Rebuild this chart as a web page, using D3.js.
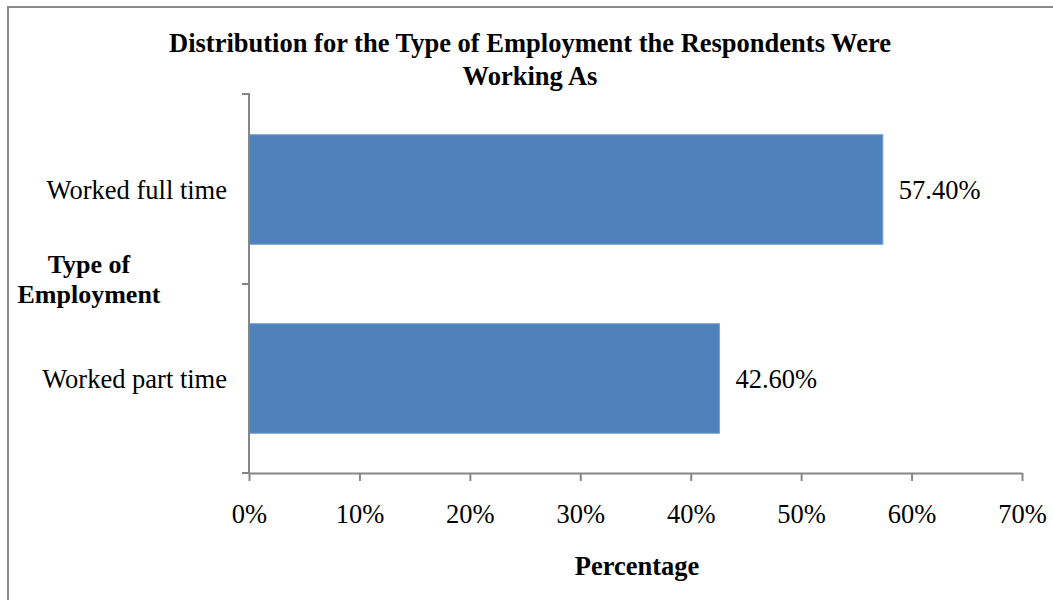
<!DOCTYPE html>
<html>
<head>
<meta charset="utf-8">
<script src="https://cdn.jsdelivr.net/npm/d3@7/dist/d3.min.js"></script>
<style>
  html, body { margin: 0; padding: 0; background: #fff; }
  svg { display: block; font-family: "Liberation Serif", "Times New Roman", serif; }
</style>
</head>
<body>
<svg id="chart" width="1053" height="600"></svg>
<script>
// Employment type shares (percent)
const categories = ["Worked full time", "Worked part time"];
const values = [57.4, 42.6];
const valueLabels = ["57.40%", "42.60%"];
const xTicks = [0, 10, 20, 30, 40, 50, 60, 70];

const svg = d3.select("#chart");
const W = 1053, H = 600;
const FS = 26.5;

// outer frame
svg.append("path")
  .attr("d", `M8,${H} L8,7 L${W},7`)
  .attr("fill", "none")
  .attr("stroke", "#8a8a8a")
  .attr("stroke-width", 2);

const plot = { left: 249, right: 1022, top: 95, bottom: 473 };

const x = d3.scaleLinear().domain([0, 70]).range([plot.left, plot.right]);
const y = d3.scaleBand().domain(categories).range([plot.top, plot.bottom])
  .paddingInner(0.42).paddingOuter(0.21);

// bars
svg.selectAll("rect.bar").data(categories).join("rect")
  .attr("class", "bar")
  .attr("x", x(0))
  .attr("y", d => y(d))
  .attr("width", (d, i) => x(values[i]) - x(0))
  .attr("height", y.bandwidth())
  .attr("fill", "#4f81bd")
  .attr("stroke", "#7ba0cf")
  .attr("stroke-width", 1);

// value labels
svg.selectAll("text.val").data(categories).join("text")
  .attr("class", "val")
  .attr("x", (d, i) => x(values[i]) + 16)
  .attr("y", d => y(d) + y.bandwidth() / 2)
  .attr("dy", "0.35em")
  .attr("font-size", FS)
  .attr("fill", "#000")
  .text((d, i) => valueLabels[i]);

// x axis
const xAxis = svg.append("g")
  .attr("transform", `translate(0,${plot.bottom})`)
  .call(d3.axisBottom(x).tickValues(xTicks).tickFormat(d => d + "%").tickSize(8).tickPadding(23).tickSizeOuter(0));
xAxis.select(".domain").attr("stroke", "#868686").attr("stroke-width", 2);
xAxis.selectAll(".tick line").attr("stroke", "#868686").attr("stroke-width", 2);
xAxis.selectAll(".tick text")
  .attr("font-family", "Liberation Serif, Times New Roman, serif")
  .attr("font-size", FS).attr("fill", "#000");

// y axis: line with separators between categories
const yAxisG = svg.append("g");
yAxisG.append("line")
  .attr("x1", plot.left).attr("x2", plot.left)
  .attr("y1", plot.top - 2).attr("y2", plot.bottom + 1)
  .attr("stroke", "#868686").attr("stroke-width", 2);
const seps = [plot.top - 1, plot.top + (plot.bottom - plot.top) / 2, plot.bottom];
yAxisG.selectAll("line.sep").data(seps).join("line")
  .attr("class", "sep")
  .attr("x1", plot.left - 7).attr("x2", plot.left)
  .attr("y1", d => d).attr("y2", d => d)
  .attr("stroke", "#868686").attr("stroke-width", 2);

// category labels
svg.selectAll("text.cat").data(categories).join("text")
  .attr("class", "cat")
  .attr("x", 227)
  .attr("y", d => y(d) + y.bandwidth() / 2)
  .attr("dy", "0.35em")
  .attr("text-anchor", "end")
  .attr("font-size", FS)
  .attr("fill", "#000")
  .text(d => d);

// title
const title = svg.append("text")
  .attr("text-anchor", "middle")
  .attr("font-size", 26.5)
  .attr("font-weight", "bold")
  .attr("fill", "#000");
title.append("tspan").attr("x", 530).attr("y", 52).text("Distribution for the Type of Employment the Respondents Were");
title.append("tspan").attr("x", 530).attr("y", 85).text("Working As");

// y axis title
const yTitle = svg.append("text")
  .attr("text-anchor", "middle")
  .attr("font-size", 26)
  .attr("font-weight", "bold")
  .attr("fill", "#000");
yTitle.append("tspan").attr("x", 89).attr("y", 273).text("Type of");
yTitle.append("tspan").attr("x", 89).attr("y", 303).text("Employment");

// x axis title
svg.append("text")
  .attr("x", 637).attr("y", 575)
  .attr("text-anchor", "middle")
  .attr("font-size", 26.5)
  .attr("font-weight", "bold")
  .attr("fill", "#000")
  .text("Percentage");
</script>
</body>
</html>
